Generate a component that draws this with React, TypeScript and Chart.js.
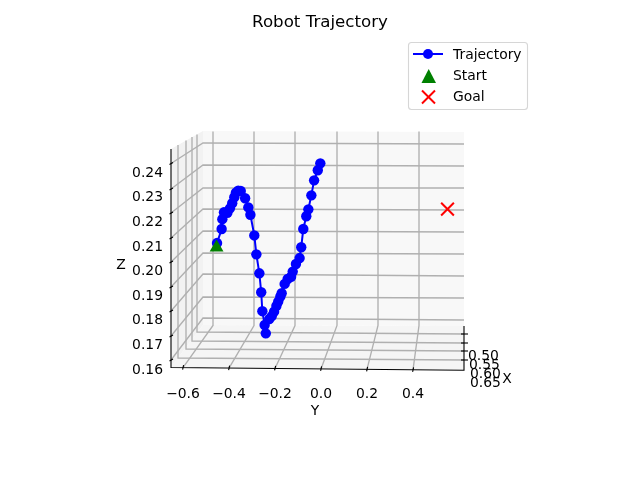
import React, { useEffect, useRef } from "react";
import { Chart, registerables } from "chart.js";

Chart.register(...registerables);

const CHART_TITLE = "Robot Trajectory";
const trajectoryY = [-0.452, -0.432, -0.429, -0.422, -0.407, -0.396, -0.386, -0.377, -0.370, -0.360, -0.349, -0.330, -0.316, -0.307, -0.290, -0.281, -0.268, -0.260, -0.255, -0.245, -0.240, -0.225, -0.214, -0.204, -0.194, -0.186, -0.177, -0.171, -0.158, -0.145, -0.130, -0.123, -0.109, -0.093, -0.086, -0.077, -0.064, -0.055, -0.042, -0.030, -0.014, -0.003];
const trajectoryZ = [0.2112, 0.2169, 0.2209, 0.2237, 0.2235, 0.2253, 0.2274, 0.2298, 0.2317, 0.2325, 0.2324, 0.2294, 0.2257, 0.2227, 0.2143, 0.2066, 0.1989, 0.1912, 0.1835, 0.1779, 0.1745, 0.1803, 0.1815, 0.1833, 0.1856, 0.1874, 0.1894, 0.1908, 0.1946, 0.1966, 0.1975, 0.1996, 0.2027, 0.2051, 0.2095, 0.2169, 0.2221, 0.2249, 0.2306, 0.2367, 0.2408, 0.2436];
const startY = [-0.454];
const startZ = [0.2094];
const goalY = [0.55];
const goalZ = [0.225];
const yTicks = [-0.6, -0.4, -0.2, 0.0, 0.2, 0.4];
const zTicks = [0.16, 0.17, 0.18, 0.19, 0.20, 0.21, 0.22, 0.23, 0.24];
const xTickLabels = ["0.50", "0.55", "0.60", "0.65"];

const FONT = "'DejaVu Sans'";
const GRID = "rgb(176,176,176)";
const GRID_WIDTH = 1.35;

type P = [number, number];

function poly(ctx: CanvasRenderingContext2D, pts: P[], fill: string) {
  ctx.beginPath();
  pts.forEach((p, i) => (i ? ctx.lineTo(p[0], p[1]) : ctx.moveTo(p[0], p[1])));
  ctx.closePath();
  ctx.fillStyle = fill;
  ctx.fill();
}

function seg(ctx: CanvasRenderingContext2D, pts: P[], color: string, width = 1.1) {
  ctx.beginPath();
  pts.forEach((p, i) => (i ? ctx.lineTo(p[0], p[1]) : ctx.moveTo(p[0], p[1])));
  ctx.strokeStyle = color;
  ctx.lineWidth = width;
  ctx.stroke();
}

// The 3D box frame behind the marks: panes, grids, axis lines and the depth axis.
const boxPlugin = {
  id: "box3d",
  beforeDatasetsDraw(chart: Chart) {
    const ctx = chart.ctx;
    ctx.save();
    poly(ctx, [[171, 149], [203, 131], [203, 325], [171, 367]], "rgb(242,242,242)");
    poly(ctx, [[171, 367], [203, 325], [464, 326], [464, 370]], "rgb(245,245,245)");
    poly(ctx, [[203, 131], [464, 132], [464, 326], [203, 325]], "rgb(248,248,248)");

    const zFront = [360, 336, 311, 287, 262, 238, 213, 189, 163.5];
    const zBackL = [318, 297, 274, 253, 231, 209, 188, 165, 143];
    const zBackR = [320, 298, 276, 254, 232, 210, 188, 166, 144];
    zFront.forEach((f, i) => {
      seg(ctx, [[171, f], [203, zBackL[i]], [464, zBackR[i]]], GRID, GRID_WIDTH);
    });

    const yBack = [213, 254, 295, 337, 378, 419];
    const yFront = [183, 229, 275, 321, 367, 413];
    const frontLine = (x: number) => 367.5 + ((x - 171) * 2.8) / 293;
    yBack.forEach((b, i) => {
      seg(ctx, [[b, 131.4], [b, 325.5], [yFront[i], frontLine(yFront[i])]], GRID, GRID_WIDTH);
    });

    const xPane = [197, 192, 186, 178];
    const xTop = [134.4, 137, 140.5, 145];
    const xFloorL = [332, 341, 349, 358];
    const xFloorR = [334, 343, 351, 360];
    xPane.forEach((x, i) => {
      seg(ctx, [[x, xTop[i]], [x, xFloorL[i]], [464, xFloorR[i]]], GRID, GRID_WIDTH);
    });

    seg(ctx, [[171, 149], [171, 367.5], [464, 370.3], [464, 326]], "#000");
    zFront.forEach((f) => seg(ctx, [[169.5, f + 1], [173, f - 1]], "#000"));
    yFront.forEach((x) => seg(ctx, [[x + 0.6, frontLine(x) - 2.5], [x - 0.4, frontLine(x) + 2]], "#000"));
    xFloorR.forEach((y) => seg(ctx, [[461, y], [468, y]], "#000"));

    ctx.fillStyle = "#000";
    ctx.font = `13.9px ${FONT}`;
    ctx.textBaseline = "middle";
    ctx.textAlign = "left";
    const xLabelX = [468, 469, 470, 470];
    const xLabelY = [356, 365, 374, 383];
    xTickLabels.forEach((t, i) => ctx.fillText(t, xLabelX[i], xLabelY[i]));
    ctx.textAlign = "center";
    ctx.fillText("X", 507, 379);
    ctx.fillText("Z", 121, 265);
    ctx.restore();
  },
  afterDraw(chart: Chart) {
    const ctx = chart.ctx;
    const labels = chart.data.datasets.map((d) => d.label as string);
    ctx.save();
    ctx.beginPath();
    ctx.roundRect(408.5, 42.5, 119, 67, 3);
    ctx.fillStyle = "rgba(255,255,255,0.8)";
    ctx.fill();
    ctx.strokeStyle = "rgb(214,214,214)";
    ctx.lineWidth = 1.1;
    ctx.stroke();

    seg(ctx, [[413, 54], [443, 54]], "#0000ff", 2);
    ctx.beginPath();
    ctx.arc(428, 54, 5, 0, Math.PI * 2);
    ctx.fillStyle = "#0000ff";
    ctx.fill();

    poly(ctx, [[428.7, 69], [436, 83], [421.5, 83]], "#008000");
    seg(ctx, [[422, 90.5], [435, 103.5]], "#ff0000", 2);
    seg(ctx, [[435, 90.5], [422, 103.5]], "#ff0000", 2);

    ctx.fillStyle = "#000";
    ctx.font = `13.9px ${FONT}`;
    ctx.textBaseline = "middle";
    ctx.textAlign = "left";
    const rows = [55, 76, 97];
    labels.forEach((t, i) => ctx.fillText(t, 453, rows[i]));
    ctx.restore();
  },
};

export default function App() {
  const ref = useRef<HTMLCanvasElement | null>(null);
  useEffect(() => {
    if (!ref.current) return;
    const chart = new Chart(ref.current, {
      type: "scatter",
      data: {
        datasets: [
          {
            label: "Trajectory",
            data: trajectoryY.map((y, i) => ({ x: y, y: trajectoryZ[i] })),
            showLine: true,
            borderColor: "#0000ff",
            backgroundColor: "#0000ff",
            borderWidth: 2,
            pointRadius: 5.2,
            pointBorderWidth: 0,
            order: 3,
          },
          {
            label: "Start",
            data: startY.map((y, i) => ({ x: y, y: startZ[i] })),
            pointStyle: "triangle",
            pointRadius: 8,
            pointBorderWidth: 0,
            backgroundColor: "#008000",
            borderColor: "#008000",
            order: 2,
          },
          {
            label: "Goal",
            data: goalY.map((y, i) => ({ x: y, y: goalZ[i] })),
            pointStyle: "crossRot",
            pointRadius: 9,
            pointBorderWidth: 2,
            backgroundColor: "#ff0000",
            borderColor: "#ff0000",
            order: 1,
          },
        ],
      },
      options: {
        responsive: false,
        animation: false,
        layout: { padding: { left: 0, right: 0, top: 0, bottom: 59 } },
        plugins: {
          legend: { display: false },
          tooltip: { enabled: false },
          title: {
            display: true,
            text: CHART_TITLE,
            color: "#000",
            font: { family: FONT, size: 16.67, weight: "normal", lineHeight: 1.2 },
            padding: { top: 13, bottom: 95 },
          },
        },
        scales: {
          x: {
            type: "linear",
            position: "bottom",
            min: -0.6739,
            max: 0.6217,
            grid: { display: false },
            border: { display: false },
            afterBuildTicks: (s: any) => {
              s.ticks = yTicks.map((value) => ({ value }));
            },
            afterFit: (s: any) => {
              s.height = 48;
            },
            ticks: {
              color: "#000",
              font: { family: FONT, size: 13.9 },
              padding: 6,
              autoSkip: false,
              maxRotation: 0,
              callback: (v: any) => Number(v).toFixed(1).replace("-", "\u2212"),
            },
            title: {
              display: true,
              text: "Y",
              color: "#000",
              font: { family: FONT, size: 13.9 },
              padding: 0,
            },
          },
          y: {
            type: "linear",
            position: "left",
            min: 0.15878,
            max: 0.25797,
            grid: { display: false, drawTicks: false, tickLength: 0 },
            border: { display: false },
            afterBuildTicks: (s: any) => {
              s.ticks = zTicks.map((value) => ({ value }));
            },
            afterFit: (s: any) => {
              s.width = 166;
            },
            ticks: {
              color: "#000",
              font: { family: FONT, size: 13.9 },
              padding: 3,
              labelOffset: 1,
              autoSkip: false,
              callback: (v: any) => Number(v).toFixed(2),
            },
          },
          reserve: {
            type: "linear",
            position: "right",
            grid: { display: false },
            border: { display: false },
            ticks: { display: false },
            afterFit: (s: any) => {
              s.width = 176;
            },
          },
        },
      },
      plugins: [boxPlugin],
    } as any);
    return () => chart.destroy();
  }, []);
  return (
    <div style={{ position: "fixed", left: 0, top: 0, width: 640, height: 479, background: "#fff" }}>
      <canvas ref={ref} width={640} height={479} style={{ display: "block" }} />
    </div>
  );
}
